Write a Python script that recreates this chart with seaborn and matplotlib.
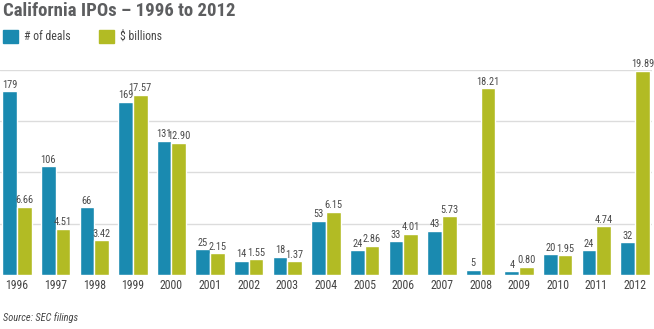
import matplotlib
matplotlib.use("Agg")
import matplotlib.pyplot as plt
from matplotlib import font_manager
from matplotlib.patches import Patch
import seaborn as sns
import numpy as np
import pandas as pd

years = [str(y) for y in range(1996, 2013)]
deals = [179, 106, 66, 169, 131, 25, 14, 18, 53, 24, 33, 43, 5, 4, 20, 24, 32]
billions = [6.66, 4.51, 3.42, 17.57, 12.90, 2.15, 1.55, 1.37, 6.15, 2.86, 4.01,
            5.73, 18.21, 0.80, 1.95, 4.74, 19.89]
series_names = ["# of deals", "$ billions"]
colors = ["#1a8ab0", "#b2bb24"]

sns.set_theme(style="white")

# pick a narrow sans face if one is installed
fonts = font_manager.fontManager.ttflist
names = {f.name for f in fonts}
family = "DejaVu Sans"
stretch = "normal"
for cand in ["Roboto Condensed", "Liberation Sans Narrow", "Open Sans Condensed", "DejaVu Sans Condensed"]:
    if cand in names:
        family = cand
        break
else:
    for f in fonts:
        if "Condensed" in f.fname or "Narrow" in f.fname:
            family = f.name
            stretch = f.stretch
            break
plt.rcParams["font.family"] = [family, "DejaVu Sans"]
plt.rcParams["font.stretch"] = stretch

n = len(years)
df = pd.DataFrame({
    "year": years * 2,
    "series": [series_names[0]] * n + [series_names[1]] * n,
    "deals": deals + [np.nan] * n,
    "billions": [np.nan] * n + billions,
})

fig = plt.figure(figsize=(6.54, 3.29), dpi=100)
ax = fig.add_axes([0.0, 1 - 275 / 329, 652 / 654, (275 - 69.7) / 329])
ax2 = ax.twinx()

palette = dict(zip(series_names, colors))
common = dict(data=df, x="year", hue="series", hue_order=series_names,
              palette=palette, width=0.76, gap=0, legend=False, saturation=1)
sns.barplot(y="deals", ax=ax, **common)
sns.barplot(y="billions", ax=ax2, **common)

ax.set_ylim(0, 200)
ax2.set_ylim(0, 20)
ax.set_xlim(-0.44, 16.44)

# light horizontal gridlines every 50 deals / 5 billions, behind all bars
for v in [50, 100, 150, 200]:
    ax.axhline(v, color="#dcdcdc", lw=1, zorder=0)

# value labels: all drawn on the top axes so no bar covers them
label_kw = dict(fontsize=7.5, color="#4a4a4a", ha="center", va="bottom",
                textcoords="offset points", xytext=(0, 1), annotation_clip=False)
for p, v in zip(ax.containers[0], deals):
    ax2.annotate(f"{v:d}", xy=(p.get_x() + p.get_width() / 2, p.get_height()),
                 xycoords=ax.transData, **label_kw)
ax2.bar_label(ax2.containers[-1], fmt="%.2f", fontsize=7.5, color="#4a4a4a",
              padding=1, clip_on=False)

for a in (ax, ax2):
    for s in a.spines.values():
        s.set_visible(False)
    a.set_ylabel("")
    a.set_xlabel("")
    a.set_yticks([])
ax.tick_params(axis="x", length=0, pad=3, labelsize=8.5, labelcolor="#444444")

fig.text(3 / 654, 1 - 2 / 329, "California IPOs \u2013 1996 to 2012", ha="left", va="top",
         fontsize=13.5, fontweight="bold", color="#5d5e60")

handles = [Patch(color=colors[0]), Patch(color=colors[1])]
fig.legend(handles, series_names, loc="upper left", bbox_to_anchor=(3 / 654, 1 - 30 / 329),
           ncol=2, frameon=False, handlelength=1.27, handleheight=1.27,
           handletextpad=0.5, columnspacing=2.4, fontsize=8.5,
           labelcolor="#444444", borderaxespad=0, borderpad=0)

fig.text(3 / 654, 1 - 318 / 329, "Source: SEC filings", ha="left", va="center",
         fontsize=7.5, style="italic", color="#444444")

fig.savefig("out.png", dpi=100)
